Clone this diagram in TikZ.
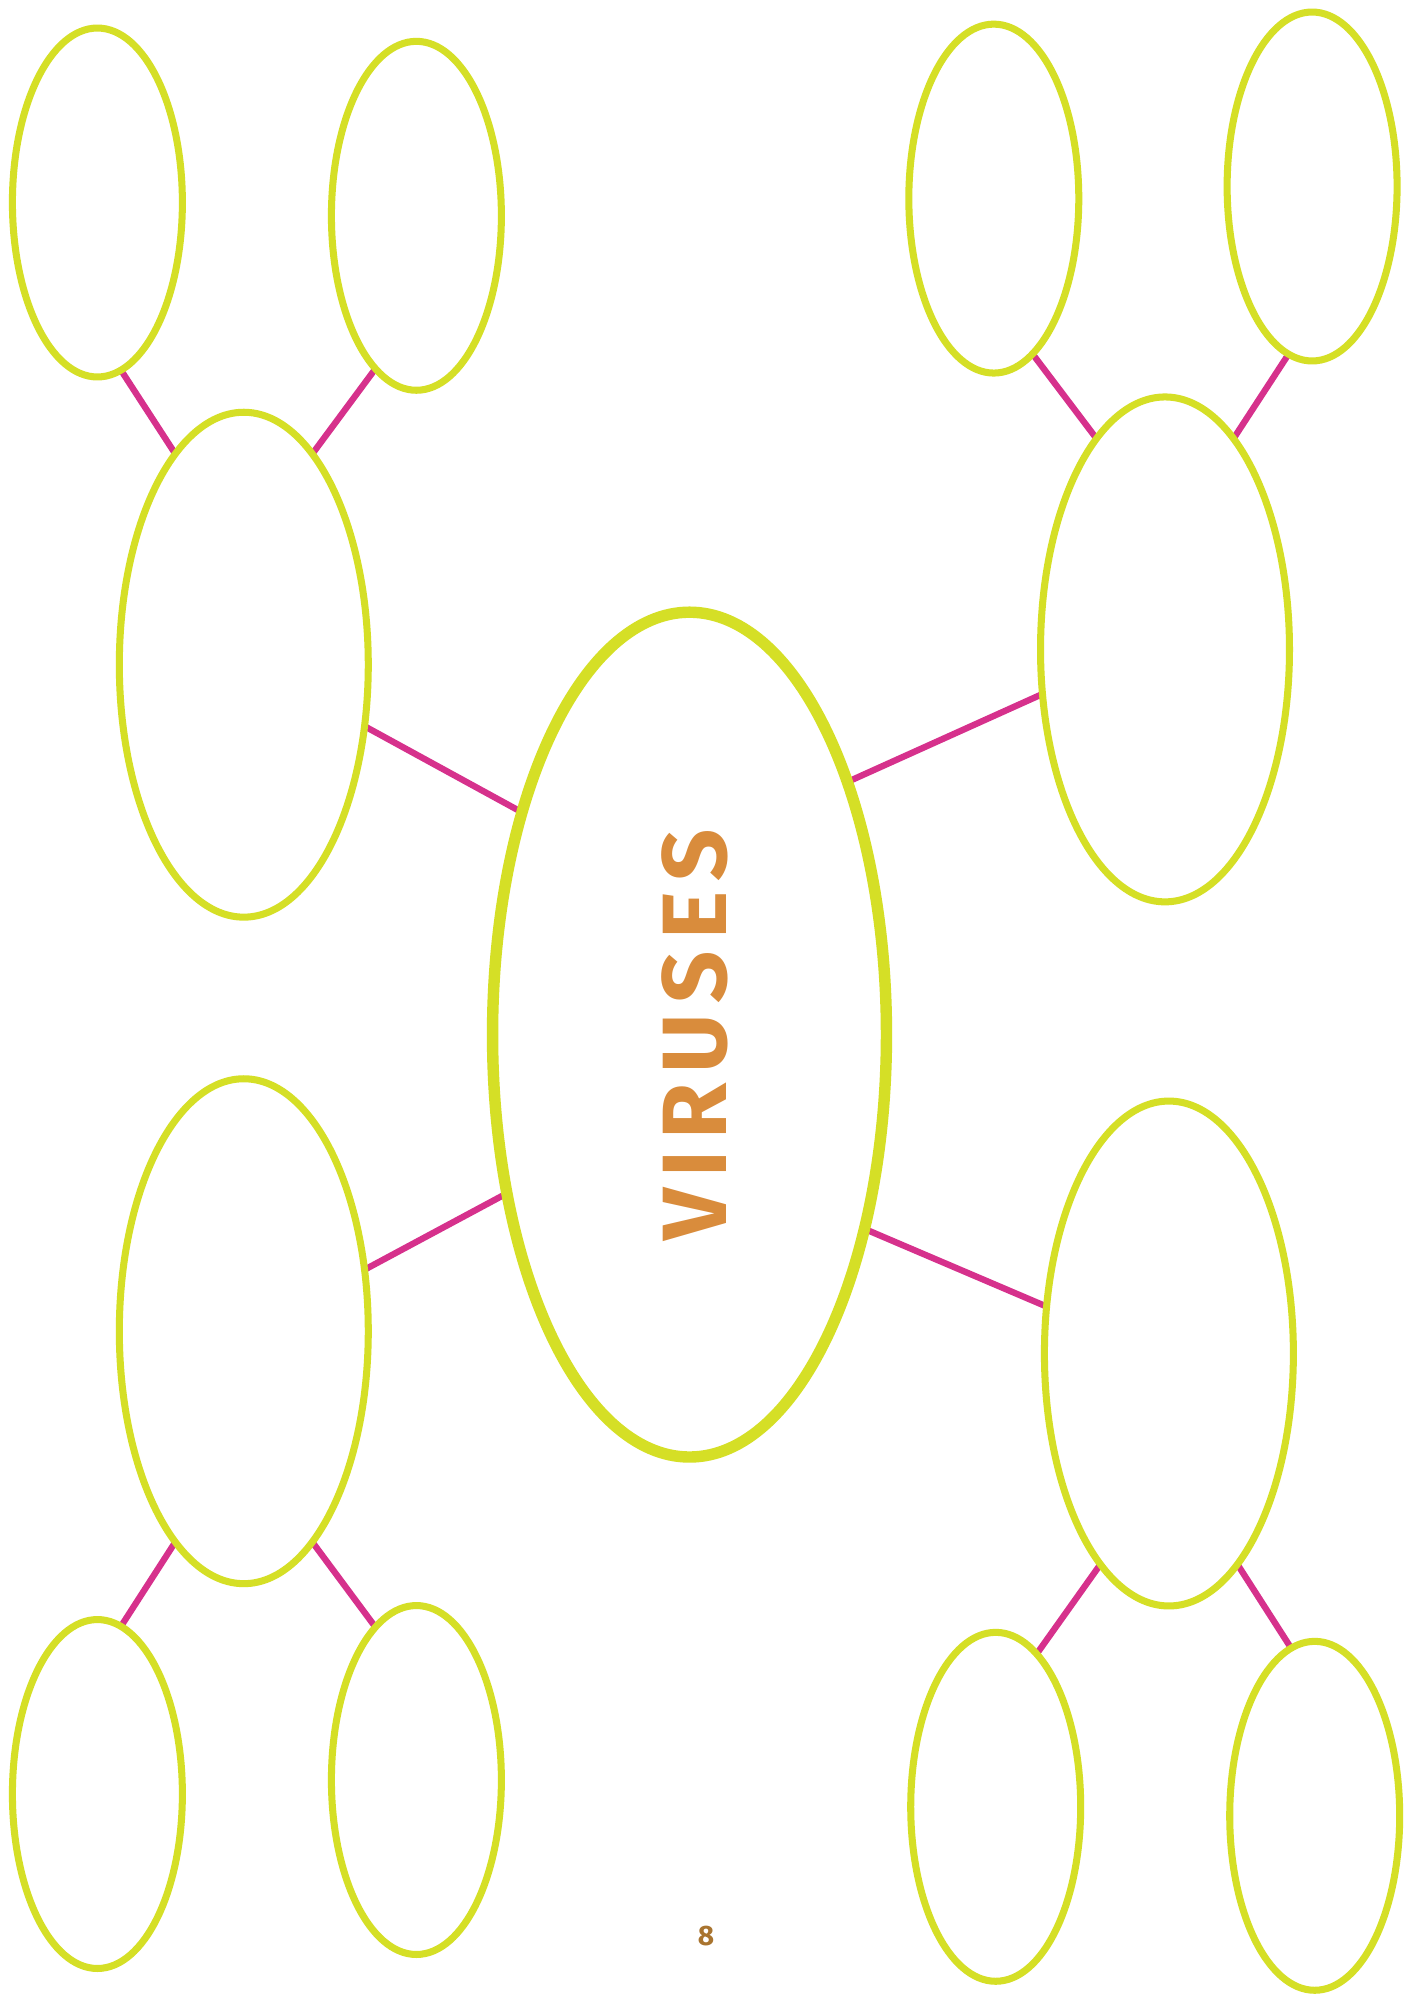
\documentclass[tikz,border=0pt]{standalone}
\usepackage{fontspec}
\setsansfont{Fira Sans}
\usetikzlibrary{shapes.geometric}
\definecolor{lime}{HTML}{D5DF26}
\definecolor{berry}{HTML}{D6318C}
\definecolor{amber}{HTML}{D98C3C}
\definecolor{bronze}{HTML}{A9742F}
\pgfdeclarelayer{back}
\pgfsetlayers{back,main}

\begin{document}
\begin{tikzpicture}[x=0.02cm,y=-0.02cm,
  bubble/.style={ellipse,draw=lime,line width=4pt,inner sep=0pt,outer sep=0pt,
    minimum width=3.4cm,minimum height=6.98cm},
  big/.style={bubble,minimum width=4.98cm,minimum height=10.1cm},
  link/.style={draw=berry,line width=3.6pt}]
\useasboundingbox (0,0) rectangle (1421,1997);
\node[bubble,line width=6.5pt,minimum width=7.88cm,minimum height=16.9cm] (core) at (689.5,1034.6) {};
\node[rotate=90,text=amber,font=\sffamily\bfseries\fontsize{52}{52}\selectfont] (title) at (695,1035)
  {\addfontfeature{LetterSpace=12}VIRUSES};
\foreach \n/\x/\y in {nw/243.8/664.7,ne/1165/649.4,sw/243.8/1331.2,se/1168.9/1353.5}
  \node[big] (\n) at (\x,\y) {};
\foreach \n/\x/\y in {nwa/97.4/202.5,nwb/416.4/215.8,nea/993.8/198.6,neb/1312.1/186.5,
  swa/97.4/1794,swb/416.4/1780,sea/995.7/1806.8,seb/1314.7/1815.8}
  \node[bubble] (\n) at (\x,\y) {};
\node[text=bronze,font=\sffamily\bfseries\fontsize{16}{16}\selectfont] (page) at (706,1936) {8};
\begin{pgfonlayer}{back}
\fill[white] (0,0) rectangle (1421,1997);
\foreach \a/\b in {nwa.-82/nw.108,nwb.255/nw.72,nw.-27/core.127,core.58/ne.200,
  nea.-76/ne.108,neb.262/ne.72,sw.27/core.221,core.-48/se.159,
  sw.252/swa.82,sw.-72/swb.105,se.252/sea.75,se.-72/seb.98}
  \draw[link] (\a) -- (\b);
\end{pgfonlayer}
\end{tikzpicture}
\end{document}
